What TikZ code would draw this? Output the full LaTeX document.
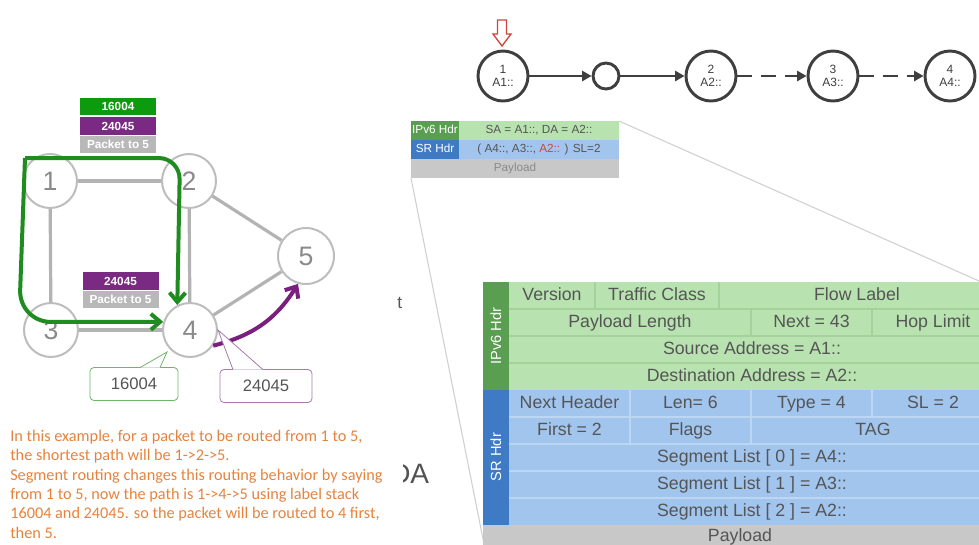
\documentclass[tikz,border=0pt]{standalone}
\usepackage{fontspec}
\setmainfont{Liberation Sans}
\newfontfamily\calib{Carlito}
\usetikzlibrary{arrows.meta,calc}
\definecolor{gedgec}{HTML}{B3B3B3}
\definecolor{gnodec}{HTML}{BDBDBD}
\definecolor{gtext}{HTML}{8A8A8A}
\definecolor{pathg}{HTML}{1E8C1E}
\definecolor{pathp}{HTML}{7B1F7E}
\definecolor{stackg}{HTML}{0E9A0E}
\definecolor{stackp}{HTML}{7A2A82}
\definecolor{stackgr}{HTML}{B8B8B8}
\definecolor{orng}{HTML}{E5833E}
\definecolor{chainc}{HTML}{3F3F3F}
\definecolor{redc}{HTML}{D0463C}
\definecolor{v6dark}{HTML}{5A9E52}
\definecolor{v6light}{HTML}{B8E2B0}
\definecolor{srdark}{HTML}{3E7BC4}
\definecolor{srlight}{HTML}{A2C5EE}
\definecolor{payc}{HTML}{C8C8C8}
\definecolor{tabtext}{HTML}{555555}
\definecolor{v6line}{HTML}{A3D29A}
\definecolor{srline}{HTML}{BCD6F4}
\definecolor{zoomc}{HTML}{CFCFCF}
\definecolor{calg}{HTML}{6DB56D}
\definecolor{calp}{HTML}{A77AAA}
\begin{document}
\begin{tikzpicture}[x=0.75pt,y=-0.75pt,
  gnode/.style={circle,draw=gnodec,line width=1.5pt,fill=white,minimum size=40.5pt,inner sep=0pt,text=gtext,font=\fontsize{20}{20}\selectfont},
  gedge/.style={draw=gedgec,line width=2.4pt},
  gpath/.style={draw=pathg,line width=3pt,-{Straight Barb[length=7pt,width=12pt]}},
  ppath/.style={draw=pathp,line width=3pt,-{Straight Barb[length=7pt,width=12pt]}},
  stackbox/.style={minimum width=57pt,minimum height=13.2pt,inner sep=0pt,text=white,font=\bfseries\fontsize{8.8}{9}\selectfont},
  callbox/.style={rounded corners=3pt,fill=white,line width=0.6pt,minimum height=24.75pt,inner sep=0pt,text=tabtext,font=\fontsize{12.5}{13}\selectfont},
  cnode/.style={circle,draw=chainc,line width=2.2pt,fill=white,minimum size=37.5pt,inner sep=0pt,align=center,text=chainc,font=\fontsize{9}{10}\selectfont},
  snode/.style={circle,draw=chainc,line width=2.2pt,fill=white,minimum size=19.5pt,inner sep=0pt},
  carrow/.style={draw=chainc,line width=1.9pt,-{Triangle[length=7pt,width=7.5pt]}},
  pktxt/.style={font=\fontsize{8.8}{9}\selectfont,inner sep=0pt,text height=6.5pt,text depth=1.8pt},
  tabtxt/.style={text=tabtext,font=\fontsize{13.3}{14}\selectfont,inner sep=0pt,text height=9.6pt,text depth=2.6pt},
]
\useasboundingbox (0,0) rectangle (979,544);
\clip (0,0) rectangle (979,544);

% ---------------- left graph ----------------
\node[gnode] (n1) at (50,181) {1};
\node[gnode] (n2) at (189,181) {2};
\node[gnode] (n3) at (51,330) {3};
\node[gnode] (n4) at (190,330) {4};
\node[gnode,minimum size=42pt] (n5) at (306,256) {5};
\draw[gedge] (n1) -- (n2);
\draw[gedge] (n1) -- (n3);
\draw[gedge] (n2) -- (n4);
\draw[gedge] (n3) -- (n4);
\draw[gedge] (n2) -- (n5);
\draw[gedge] (n4) -- (n5);

% green path
\coordinate (gs) at (25,158);
\draw[gpath,rounded corners=16pt] (gs) -- (180,158) -- (n4.117);
\draw[gpath,rounded corners=24pt] (gs) -- (19,322) -- (n4.163);
% purple path
\draw[ppath] (n4.-34) to[bend right=22] (n5.254);

% label stacks
\node[stackbox,fill=stackg] (s1a) at (118,106.5) {16004};
\node[stackbox,fill=stackp] (s1b) at (118,126) {24045};
\node[stackbox,fill=stackgr] (s1c) at (118,144.5) {Packet to 5};
\node[stackbox,fill=stackp] (s2a) at (120.5,281) {24045};
\node[stackbox,fill=stackgr] (s2b) at (120.5,299.5) {Packet to 5};

% callouts
\node[callbox,draw=calg,minimum width=66pt] (c1) at (134,384) {16004};
\coordinate (t1) at (167,352);
\draw[calg,line width=0.6pt,fill=white] ($(c1.north)+(6,0.5)$) -- (t1) -- ($(c1.north)+(26,0.5)$);
\node[callbox,draw=calp,minimum width=69pt] (c2) at (266,386) {24045};
\draw[calp,line width=0.6pt,fill=white] ($(c2.north)+(-33,0.5)$) -- (n4.east) -- ($(c2.north)+(-3,0.5)$);

% explanation text
\node[anchor=north west,align=left,inner sep=0pt,text=orng,font=\calib\fontsize{12.2}{14.5}\selectfont] (expl) at (10,430)
{In this example, for a packet to be routed from 1 to 5,\\
the shortest path will be 1->2->5.\\
Segment routing changes this routing behavior by saying\\
from 1 to 5, now the path is 1->4->5 using label stack\\
16004 and 24045. so the packet will be routed to 4 first,\\
then 5.};

% stray fragments
\node[text=tabtext,font=\fontsize{13}{13}\selectfont,inner sep=0pt,anchor=base west] (frt) at (397,308) {t};
\begin{scope}
\clip (403,440) rectangle (440,500);
\node[text=chainc!90,font=\fontsize{21}{21}\selectfont,inner sep=0pt,anchor=base west] (frda) at (390,483) {DA};
\end{scope}

% ---------------- right: chain ----------------
\draw[redc,line width=1pt,fill=white] (497.5,20) -- (506.5,20) -- (506.5,34) -- (511,34) -- (502,46) -- (493,34) -- (497.5,34) -- cycle;
\node[cnode] (a1) at (503,76) {1\\A1::};
\node[snode] (sm) at (606,76) {};
\node[cnode] (a2) at (711,76) {2\\A2::};
\node[cnode] (a3) at (833,76) {3\\A3::};
\node[cnode] (a4) at (950,76) {4\\A4::};
\draw[carrow] (a1) -- (sm);
\draw[carrow] (sm) -- (a2);
\draw[carrow,dash pattern=on 11pt off 7pt] (a2) -- (a3);
\draw[carrow,dash pattern=on 11pt off 7pt] (a3) -- (a4);

% zoom lines
\coordinate (pksw) at (411,178);
\coordinate (pkne) at (619,121);
\coordinate (tbsw) at (484,544);
\coordinate (tbne) at (979,281);
\draw[zoomc,line width=0.8pt] (pksw) -- (tbsw);
\draw[zoomc,line width=0.8pt] (pkne) -- (tbne);

% small packet
\fill[v6dark] (411,121) rectangle (459,140);
\fill[v6light] (459,121) rectangle (619,140);
\fill[srdark] (411,140) rectangle (459,159);
\fill[srlight] (459,140) rectangle (619,159);
\fill[payc] (411,159) rectangle (619,178);
\node[pktxt,text=white] (p1) at (435,130.5) {IPv6 Hdr};
\node[pktxt,text=white] (p2) at (435,149.5) {SR Hdr};
\node[pktxt,text=tabtext] (p3) at (539,130.5) {SA = A1::, DA = A2::};
\node[pktxt,text=tabtext] (p4) at (539,149.5) {( A4::, A3::, \textcolor{redc}{A2::} ) SL=2};
\node[pktxt,text=gtext] (p5) at (515,168.5) {Payload};

% ---------------- big header table ----------------
\fill[v6light] (509,282) rectangle (995,390);
\fill[srlight] (509,390) rectangle (995,525);
\fill[v6dark] (483,282) rectangle (509,390);
\fill[srdark] (483,390) rectangle (509,525);
\fill[payc] (483,525) rectangle (995,560);
\begin{scope}[v6line,line width=0.9pt]
\draw (509,309) -- (995,309);
\draw (509,336) -- (995,336);
\draw (509,363) -- (995,363);
\draw (595,282) -- (595,309);
\draw (719,282) -- (719,309);
\draw (751,309) -- (751,336);
\draw (872,309) -- (872,336);
\end{scope}
\begin{scope}[srline,line width=0.9pt]
\draw (509,417) -- (995,417);
\draw (509,444) -- (995,444);
\draw (509,471) -- (995,471);
\draw (509,498) -- (995,498);
\draw (630,390) -- (630,444);
\draw (751,390) -- (751,444);
\draw (872,390) -- (872,417);
\end{scope}
\node[rotate=90,text=white,font=\fontsize{11}{11}\selectfont,inner sep=0pt] (lv6) at (496,336) {IPv6 Hdr};
\node[rotate=90,text=white,font=\fontsize{11}{11}\selectfont,inner sep=0pt] (lsr) at (496,457) {SR Hdr};
\node[tabtxt] at (552,295.5) {Version};
\node[tabtxt] at (657,295.5) {Traffic Class};
\node[tabtxt] at (857,295.5) {Flow Label};
\node[tabtxt] at (630,322.5) {Payload Length};
\node[tabtxt] at (811.5,322.5) {Next = 43};
\node[tabtxt] at (933,322.5) {Hop Limit};
\node[tabtxt] at (752,349.5) {Source Address = A1::};
\node[tabtxt] at (752,376.5) {Destination Address = A2::};
\node[tabtxt] at (569.5,403.5) {Next Header};
\node[tabtxt] at (690.5,403.5) {Len= 6};
\node[tabtxt] at (811.5,403.5) {Type = 4};
\node[tabtxt] at (933,403.5) {SL = 2};
\node[tabtxt] at (569.5,430.5) {First = 2};
\node[tabtxt] at (690.5,430.5) {Flags};
\node[tabtxt] at (873,430.5) {TAG};
\node[tabtxt] at (752,457.5) {Segment List [ 0 ] = A4::};
\node[tabtxt] at (752,484.5) {Segment List [ 1 ] = A3::};
\node[tabtxt] at (752,511.5) {Segment List [ 2 ] = A2::};
\node[tabtxt] at (740,537) {Payload};
\end{tikzpicture}
\end{document}
